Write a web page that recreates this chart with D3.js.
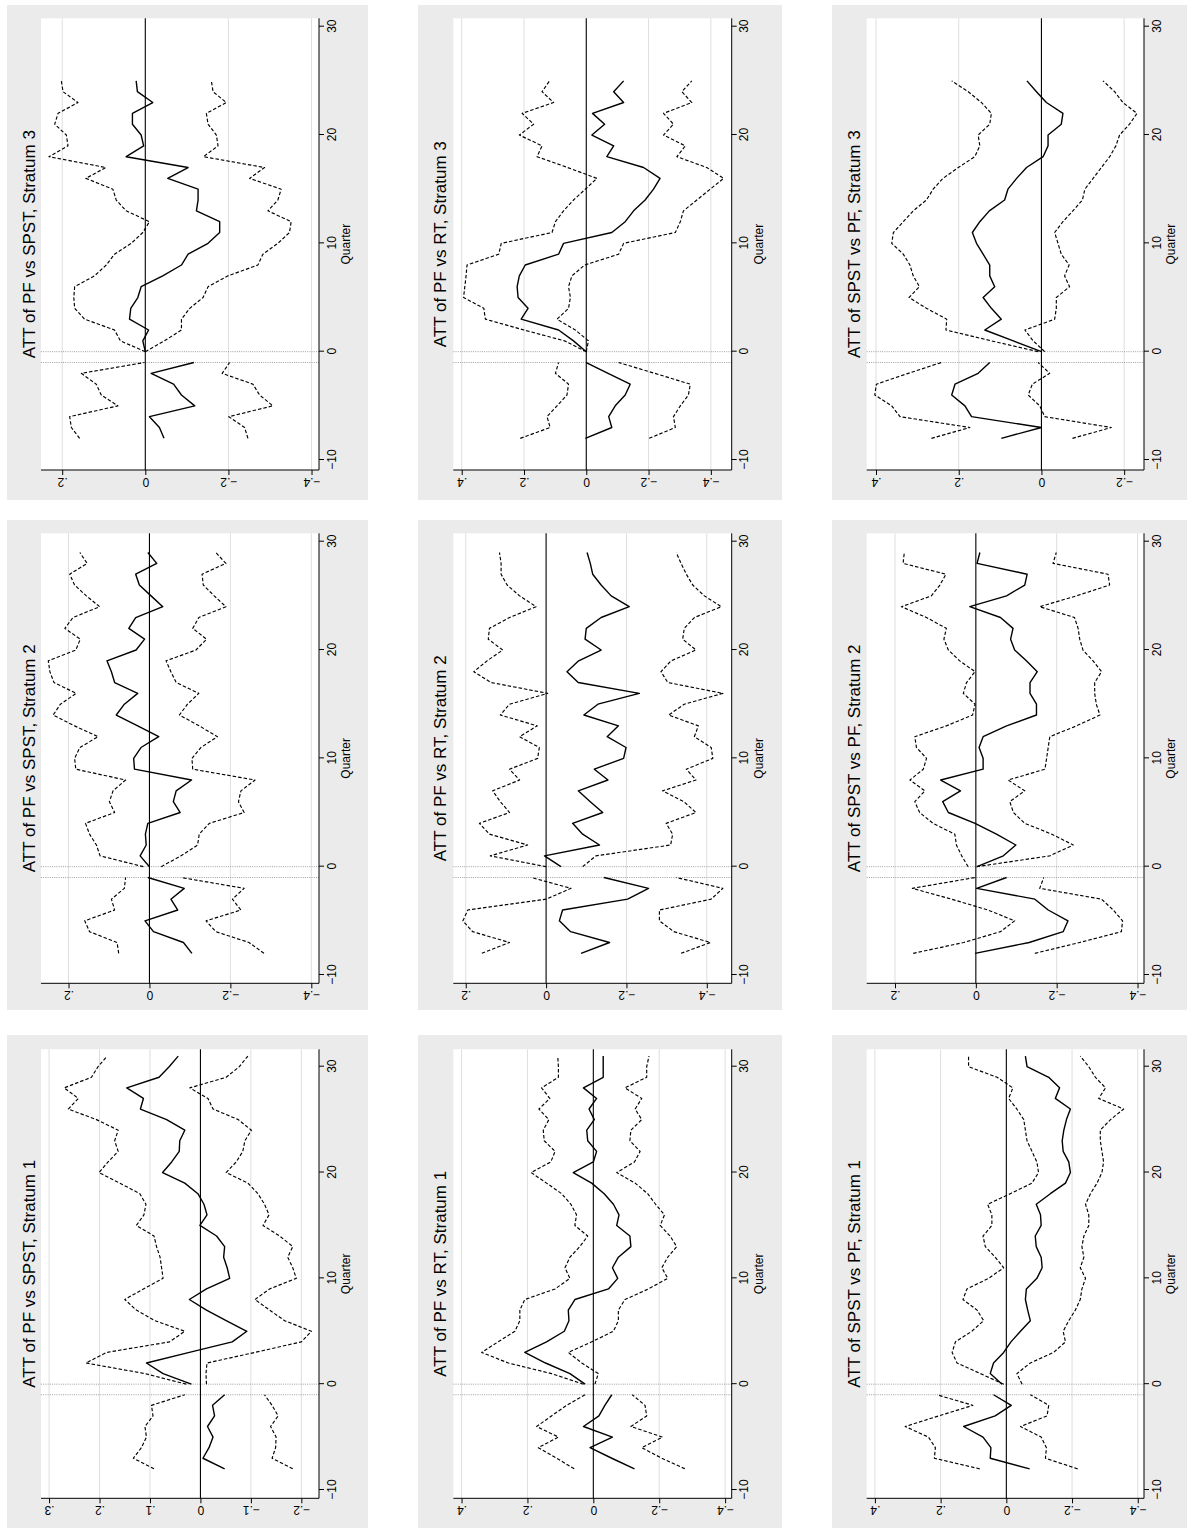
<!DOCTYPE html>
<html><head><meta charset="utf-8">
<script src="https://cdn.jsdelivr.net/npm/d3@7"></script>
<style>body{margin:0;background:#fff}svg{display:block}</style>
</head><body>
<svg id="c" width="1187" height="1530"></svg>
<script>
// ---------- categories ----------
const quartersS1 = [-8,-7,-6,-5,-4,-3,-2,-1,0,1,2,3,4,5,6,7,8,9,10,11,12,13,14,15,16,17,18,19,20,21,22,23,24,25,26,27,28,29,30,31];
const quartersS2 = [-8,-7,-6,-5,-4,-3,-2,-1,0,1,2,3,4,5,6,7,8,9,10,11,12,13,14,15,16,17,18,19,20,21,22,23,24,25,26,27,28,29];
const quartersS3 = [-8,-7,-6,-5,-4,-3,-2,-1,0,1,2,3,4,5,6,7,8,9,10,11,12,13,14,15,16,17,18,19,20,21,22,23,24,25];

const xTicks = [-10,0,10,20,30];
const xTickLabels = ["\u221210","0","10","20","30"];

// ---------- PF vs SPST ----------
const pfSpstS1Est = [-0.048,-0.005,-0.017,-0.025,-0.014,-0.028,-0.024,-0.048, 0.018,0.074,0.107,0.022,-0.063,-0.092,-0.051,-0.012,0.022,-0.012,-0.058,-0.053,-0.046,-0.048,-0.032,0.001,-0.013,-0.007,0.005,0.031,0.075,0.057,0.042,0.041,0.031,0.067,0.119,0.113,0.146,0.082,0.062,0.044];
const pfSpstS1Hi  = [0.092,0.133,0.117,0.107,0.110,0.094,0.097,0.031, 0.028,0.110,0.227,0.186,0.061,0.031,0.090,0.127,0.150,0.113,0.074,0.077,0.080,0.087,0.092,0.127,0.112,0.108,0.120,0.160,0.201,0.183,0.163,0.170,0.163,0.206,0.262,0.242,0.270,0.216,0.203,0.185];
const pfSpstS1Lo  = [-0.183,-0.142,-0.149,-0.150,-0.139,-0.154,-0.142,-0.127, -0.012,-0.011,-0.013,-0.108,-0.200,-0.220,-0.167,-0.137,-0.108,-0.137,-0.190,-0.183,-0.173,-0.183,-0.157,-0.124,-0.136,-0.127,-0.114,-0.094,-0.051,-0.071,-0.084,-0.088,-0.101,-0.075,-0.025,-0.015,0.021,-0.051,-0.077,-0.094];

const pfSpstS2Est = [-0.105,-0.084,-0.010,0.011,-0.070,-0.053,-0.086,0.004, 0.000,0.023,0.008,0.010,0.004,-0.076,-0.059,-0.066,-0.104,0.037,0.039,0.021,-0.023,0.029,0.082,0.062,0.029,0.086,0.094,0.105,0.033,0.012,0.051,0.034,-0.033,-0.004,0.025,0.034,-0.018,0.004];
const pfSpstS2Hi  = [0.076,0.080,0.148,0.160,0.086,0.094,0.062,0.059, 0.015,0.122,0.131,0.148,0.158,0.086,0.099,0.090,0.059,0.182,0.185,0.172,0.127,0.185,0.238,0.220,0.181,0.236,0.246,0.250,0.182,0.171,0.209,0.189,0.123,0.156,0.185,0.197,0.154,0.172];
const pfSpstS2Lo  = [-0.283,-0.246,-0.164,-0.140,-0.226,-0.205,-0.234,-0.078, -0.029,-0.078,-0.119,-0.123,-0.148,-0.234,-0.220,-0.226,-0.261,-0.107,-0.105,-0.127,-0.168,-0.123,-0.074,-0.094,-0.122,-0.066,-0.053,-0.041,-0.115,-0.141,-0.107,-0.122,-0.189,-0.160,-0.133,-0.130,-0.189,-0.164];

const pfSpstS3Est = [-0.045,-0.034,-0.010,-0.119,-0.087,-0.068,-0.014,-0.117, 0.000,0.006,-0.008,0.038,0.035,0.018,0.010,-0.042,-0.087,-0.103,-0.151,-0.179,-0.179,-0.123,-0.127,-0.127,-0.054,-0.103,0.046,0.004,0.010,0.031,0.031,-0.018,0.019,0.022];
const pfSpstS3Hi  = [0.158,0.178,0.182,0.066,0.106,0.118,0.154,0.002, 0.000,0.060,0.074,0.146,0.170,0.172,0.170,0.122,0.094,0.074,0.034,0.006,-0.010,0.046,0.070,0.078,0.143,0.095,0.232,0.186,0.190,0.218,0.210,0.162,0.198,0.202];
const pfSpstS3Lo  = [-0.247,-0.239,-0.201,-0.307,-0.275,-0.259,-0.185,-0.203, 0.000,-0.046,-0.087,-0.087,-0.107,-0.139,-0.151,-0.199,-0.271,-0.283,-0.319,-0.347,-0.351,-0.295,-0.319,-0.327,-0.251,-0.287,-0.140,-0.175,-0.171,-0.151,-0.147,-0.195,-0.163,-0.159];

// ---------- PF vs RT ----------
const pfRtS1Est = [-0.125,-0.056,0.010,-0.058,0.030,-0.017,-0.035,-0.056, 0.025,0.071,0.145,0.208,0.142,0.088,0.074,0.076,0.056,-0.046,-0.074,-0.058,-0.076,-0.114,-0.111,-0.071,-0.078,-0.061,-0.033,0.005,0.061,0.000,-0.010,0.017,0.020,-0.003,0.013,-0.010,0.030,-0.030,-0.030,-0.030];
const pfRtS1Hi  = [0.058,0.111,0.167,0.106,0.172,0.127,0.081,0.025, 0.030,0.127,0.258,0.339,0.289,0.238,0.223,0.223,0.208,0.116,0.071,0.086,0.071,0.041,0.017,0.056,0.051,0.068,0.096,0.142,0.189,0.129,0.116,0.149,0.152,0.135,0.165,0.132,0.157,0.106,0.106,0.108];
const pfRtS1Lo  = [-0.278,-0.208,-0.147,-0.210,-0.114,-0.162,-0.157,-0.118, -0.005,-0.015,0.035,0.076,0.005,-0.061,-0.076,-0.076,-0.096,-0.167,-0.226,-0.208,-0.226,-0.253,-0.233,-0.203,-0.216,-0.189,-0.165,-0.127,-0.071,-0.125,-0.142,-0.111,-0.114,-0.147,-0.127,-0.147,-0.096,-0.162,-0.162,-0.169];

const pfRtS2Est = [-0.087,-0.158,-0.061,-0.033,-0.041,-0.203,-0.255,-0.144, -0.037,0.004,-0.133,-0.091,-0.066,-0.141,-0.110,-0.080,-0.154,-0.120,-0.193,-0.199,-0.152,-0.180,-0.094,-0.129,-0.232,-0.080,-0.052,-0.081,-0.137,-0.097,-0.100,-0.137,-0.207,-0.162,-0.137,-0.116,-0.110,-0.102];
const pfRtS2Hi  = [0.160,0.091,0.183,0.207,0.195,0.000,-0.062,0.037, 0.000,0.139,0.046,0.141,0.166,0.091,0.114,0.133,0.066,0.091,0.021,0.017,0.066,0.022,0.114,0.091,-0.004,0.137,0.180,0.147,0.108,0.144,0.141,0.091,0.025,0.066,0.097,0.112,0.112,0.116];
const pfRtS2Lo  = [-0.336,-0.409,-0.318,-0.282,-0.282,-0.411,-0.440,-0.324, -0.091,-0.124,-0.310,-0.315,-0.299,-0.373,-0.343,-0.290,-0.373,-0.349,-0.415,-0.411,-0.369,-0.379,-0.305,-0.344,-0.440,-0.303,-0.286,-0.311,-0.373,-0.340,-0.344,-0.369,-0.436,-0.394,-0.365,-0.349,-0.336,-0.324];

const pfRtS3Est = [0.003,-0.082,-0.072,-0.093,-0.125,-0.141,-0.070,0.000, 0.000,0.041,0.089,0.209,0.187,0.219,0.222,0.215,0.196,0.089,0.073,-0.082,-0.125,-0.152,-0.189,-0.216,-0.237,-0.184,-0.066,-0.088,-0.018,-0.059,-0.020,-0.120,-0.088,-0.120];
const pfRtS3Hi  = [0.212,0.116,0.126,0.094,0.062,0.057,0.099,0.089, 0.000,0.070,0.200,0.324,0.329,0.394,0.390,0.386,0.383,0.281,0.273,0.110,0.099,0.073,0.041,0.003,-0.034,0.060,0.158,0.142,0.215,0.169,0.206,0.105,0.142,0.118];
const pfRtS3Lo  = [-0.202,-0.286,-0.280,-0.302,-0.328,-0.334,-0.220,-0.104, 0.000,-0.007,0.035,0.094,0.057,0.051,0.057,0.046,0.005,-0.104,-0.120,-0.286,-0.302,-0.312,-0.355,-0.398,-0.441,-0.387,-0.291,-0.318,-0.248,-0.280,-0.248,-0.339,-0.307,-0.339];

// ---------- SPST vs PF ----------
const spstPfS1Est = [-0.071,0.049,0.047,0.071,0.130,0.034,-0.015,0.039, 0.013,0.049,0.039,0.008,-0.014,-0.043,-0.073,-0.065,-0.058,-0.061,-0.093,-0.109,-0.106,-0.091,-0.088,-0.106,-0.104,-0.091,-0.134,-0.180,-0.195,-0.190,-0.173,-0.170,-0.175,-0.183,-0.195,-0.149,-0.162,-0.129,-0.063,-0.058];
const spstPfS1Hi  = [0.081,0.219,0.216,0.237,0.308,0.206,0.102,0.211, 0.008,0.079,0.150,0.165,0.155,0.105,0.069,0.089,0.132,0.120,0.054,0.008,0.034,0.064,0.071,0.044,0.044,0.057,-0.012,-0.078,-0.098,-0.093,-0.078,-0.063,-0.058,-0.053,-0.032,-0.007,-0.020,0.028,0.115,0.115];
const spstPfS1Lo  = [-0.217,-0.119,-0.122,-0.106,-0.043,-0.124,-0.129,-0.073, -0.048,-0.032,-0.073,-0.144,-0.180,-0.173,-0.190,-0.210,-0.225,-0.230,-0.241,-0.225,-0.236,-0.230,-0.236,-0.251,-0.251,-0.241,-0.256,-0.276,-0.291,-0.296,-0.291,-0.286,-0.286,-0.317,-0.357,-0.281,-0.302,-0.271,-0.251,-0.225];

const spstPfS2Est = [0.002,-0.132,-0.216,-0.228,-0.179,-0.146,-0.002,-0.076, -0.003,-0.068,-0.099,-0.051,0.002,0.068,0.082,0.038,0.087,-0.018,-0.018,-0.008,-0.018,-0.076,-0.150,-0.150,-0.134,-0.134,-0.152,-0.125,-0.096,-0.086,-0.092,-0.061,0.015,-0.076,-0.121,-0.127,-0.003,-0.010];
const spstPfS2Hi  = [0.155,0.030,-0.061,-0.096,-0.030,0.060,0.157,0.002, 0.019,0.035,0.048,0.052,0.106,0.139,0.151,0.126,0.163,0.130,0.122,0.147,0.151,0.073,0.008,0.002,0.031,0.023,0.002,0.040,0.068,0.079,0.073,0.122,0.184,0.110,0.089,0.074,0.180,0.177];
const spstPfS2Lo  = [-0.146,-0.257,-0.360,-0.363,-0.340,-0.311,-0.158,-0.168, -0.002,-0.183,-0.241,-0.188,-0.121,-0.093,-0.084,-0.121,-0.080,-0.171,-0.175,-0.179,-0.183,-0.249,-0.307,-0.298,-0.294,-0.294,-0.311,-0.290,-0.265,-0.257,-0.253,-0.244,-0.158,-0.249,-0.331,-0.327,-0.191,-0.199];

const spstPfS3Est = [0.097,0.000,0.169,0.185,0.217,0.209,0.153,0.125, 0.000,0.068,0.137,0.097,0.121,0.141,0.113,0.125,0.125,0.141,0.157,0.167,0.149,0.126,0.089,0.081,0.060,0.036,-0.004,-0.016,-0.016,-0.048,-0.052,-0.012,0.012,0.035];
const spstPfS3Hi  = [0.266,0.173,0.342,0.362,0.403,0.399,0.322,0.242, 0.008,0.121,0.231,0.229,0.278,0.320,0.295,0.310,0.318,0.334,0.362,0.358,0.334,0.310,0.278,0.262,0.238,0.201,0.161,0.149,0.153,0.125,0.121,0.145,0.177,0.217];
const spstPfS3Lo  = [-0.075,-0.169,-0.008,0.004,0.032,0.022,-0.020,0.008, -0.008,0.020,0.040,-0.032,-0.036,-0.036,-0.068,-0.056,-0.067,-0.048,-0.040,-0.032,-0.052,-0.076,-0.099,-0.105,-0.125,-0.145,-0.165,-0.180,-0.189,-0.213,-0.231,-0.197,-0.177,-0.149];

// ---------- y tick values / labels ----------
const yTicks3 = [0.3,0.2,0.1,0,-0.1,-0.2];
const yLabels3 = [".3",".2",".1","0","\u2212.1","\u2212.2"];
const yTicks24 = [0.4,0.2,0,-0.2,-0.4];
const yLabels24 = [".4",".2","0","\u2212.2","\u2212.4"];
const yTicks2n4 = [0.2,0,-0.2,-0.4];
const yLabels2n4 = [".2","0","\u2212.2","\u2212.4"];
const yTicks42 = [0.4,0.2,0,-0.2];
const yLabels42 = [".4",".2","0","\u2212.2"];

const titles = [
  ["ATT of PF vs SPST, Stratum 1","ATT of PF vs SPST, Stratum 2","ATT of PF vs SPST, Stratum 3"],
  ["ATT of PF vs RT, Stratum 1","ATT of PF vs RT, Stratum 2","ATT of PF vs RT, Stratum 3"],
  ["ATT of SPST vs PF, Stratum 1","ATT of SPST vs PF, Stratum 2","ATT of SPST vs PF, Stratum 3"]
];

// ---------- layout (landscape figure, 1530 x 1187, then rotated) ----------
const colGeom = [
  {gx0:2,    gx1:495,  px0:31.7,  px1:480.7,  q10:40,   q30:463.3},
  {gx0:520,  gx1:1010, px0:546.7, px1:996.7,  q10:555,  q30:988.3},
  {gx0:1030, gx1:1525, px0:1060,  px1:1511.7, q10:1070, q30:1503.3}
];
const rowGeom = [
  {gy0:7,   gy1:368,  py0:41,    py1:319},
  {gy0:418, gy1:782,  py0:453.3, py1:731.7},
  {gy0:832, gy1:1194, py0:866.7, py1:1144}
];

const panels = [
  {row:0,col:0,q:quartersS1,est:pfSpstS1Est,hi:pfSpstS1Hi,lo:pfSpstS1Lo,yt:yTicks3,yl:yLabels3,yDom:[0.316,-0.235]},
  {row:0,col:1,q:quartersS2,est:pfSpstS2Est,hi:pfSpstS2Hi,lo:pfSpstS2Lo,yt:yTicks2n4,yl:yLabels2n4,yDom:[0.268,-0.419]},
  {row:0,col:2,q:quartersS3,est:pfSpstS3Est,hi:pfSpstS3Hi,lo:pfSpstS3Lo,yt:yTicks2n4,yl:yLabels2n4,yDom:[0.251,-0.418]},
  {row:1,col:0,q:quartersS1,est:pfRtS1Est,hi:pfRtS1Hi,lo:pfRtS1Lo,yt:yTicks24,yl:yLabels24,yDom:[0.425,-0.420]},
  {row:1,col:1,q:quartersS2,est:pfRtS2Est,hi:pfRtS2Hi,lo:pfRtS2Lo,yt:yTicks2n4,yl:yLabels2n4,yDom:[0.231,-0.462]},
  {row:1,col:2,q:quartersS3,est:pfRtS3Est,hi:pfRtS3Hi,lo:pfRtS3Lo,yt:yTicks24,yl:yLabels24,yDom:[0.427,-0.467]},
  {row:2,col:0,q:quartersS1,est:spstPfS1Est,hi:spstPfS1Hi,lo:spstPfS1Lo,yt:yTicks24,yl:yLabels24,yDom:[0.425,-0.419]},
  {row:2,col:1,q:quartersS2,est:spstPfS2Est,hi:spstPfS2Hi,lo:spstPfS2Lo,yt:yTicks2n4,yl:yLabels2n4,yDom:[0.270,-0.416]},
  {row:2,col:2,q:quartersS3,est:spstPfS3Est,hi:spstPfS3Hi,lo:spstPfS3Lo,yt:yTicks42,yl:yLabels42,yDom:[0.4225,-0.248]}
];

const FONT = "'Liberation Sans', Arial, Helvetica, sans-serif";
const svg = d3.select("#c");
svg.append("rect").attr("width",1187).attr("height",1530).attr("fill","#fff");
const root = svg.append("g").attr("transform","translate(0,1530) rotate(-90)");

panels.forEach(p => {
  const cg = colGeom[p.col], rg = rowGeom[p.row];
  const g = root.append("g");
  g.append("rect").attr("x",cg.gx0).attr("y",rg.gy0).attr("width",cg.gx1-cg.gx0).attr("height",rg.gy1-rg.gy0).attr("fill","#ebebeb");
  g.append("rect").attr("x",cg.px0).attr("y",rg.py0).attr("width",cg.px1-cg.px0).attr("height",rg.py1-rg.py0).attr("fill","#ffffff");

  const x = d3.scaleLinear().domain([-10,30]).range([cg.q10,cg.q30]);
  const y = d3.scaleLinear().domain(p.yDom).range([rg.py0,rg.py1]);

  // grid lines
  g.selectAll("line.grid").data(p.yt.filter(t=>t!==0)).enter().append("line")
    .attr("x1",cg.px0).attr("x2",cg.px1).attr("y1",d=>y(d)).attr("y2",d=>y(d))
    .attr("stroke","#dedede").attr("stroke-width",1);

  // vertical dotted reference lines
  [-1,0].forEach(v=>{
    g.append("line").attr("x1",x(v)).attr("x2",x(v)).attr("y1",rg.py0).attr("y2",rg.py1)
      .attr("stroke","#a0a0a0").attr("stroke-width",1).attr("stroke-dasharray","1,1.2");
  });

  // zero line
  g.append("line").attr("x1",cg.px0).attr("x2",cg.px1).attr("y1",y(0)).attr("y2",y(0))
    .attr("stroke","#000").attr("stroke-width",1.1);

  const line = d3.line().x(d=>x(d.q)).y(d=>y(d.v));
  const series = [
    {vals:p.hi, dash:"3.5,2", w:1.15},
    {vals:p.lo, dash:"3.5,2", w:1.15},
    {vals:p.est, dash:null, w:1.4}
  ];
  series.forEach(s=>{
    const pts = p.q.map((q,i)=>({q:q, v:s.vals[i]}));
    [pts.filter(d=>d.q<0), pts.filter(d=>d.q>=0)].forEach(seg=>{
      const path = g.append("path").attr("d",line(seg)).attr("fill","none")
        .attr("stroke","#000").attr("stroke-width",s.w).attr("stroke-linejoin","round");
      if (s.dash) path.attr("stroke-dasharray",s.dash);
    });
  });

  // y axis
  const yAxis = d3.axisLeft(y).tickValues(p.yt).tickSize(5).tickSizeOuter(0)
    .tickFormat((d,i)=>p.yl[i]);
  const ya = g.append("g").attr("transform",`translate(${cg.px0},0)`).call(yAxis);
  ya.select(".domain").remove();
  ya.selectAll(".tick line").attr("stroke","#000");
  ya.selectAll(".tick text").attr("x",null).attr("dy",null).attr("text-anchor","middle")
    .attr("transform","translate(-8,0) rotate(-90)")
    .attr("font-family",FONT).attr("font-size",12).attr("fill","#000");
  g.append("line").attr("x1",cg.px0).attr("x2",cg.px0).attr("y1",rg.py0).attr("y2",rg.py1)
    .attr("stroke","#000").attr("stroke-width",1);

  // x axis
  const xAxis = d3.axisBottom(x).tickValues(xTicks).tickSize(5).tickSizeOuter(0).tickPadding(3)
    .tickFormat((d,i)=>xTickLabels[i]);
  const xa = g.append("g").attr("transform",`translate(0,${rg.py1})`).call(xAxis);
  xa.select(".domain").remove();
  xa.selectAll(".tick line").attr("stroke","#000");
  xa.selectAll(".tick text").attr("font-family",FONT).attr("font-size",12).attr("fill","#000");
  g.append("line").attr("x1",cg.px0).attr("x2",cg.px1).attr("y1",rg.py1).attr("y2",rg.py1)
    .attr("stroke","#000").attr("stroke-width",1);

  // axis title
  g.append("text").attr("x",(cg.px0+cg.px1)/2).attr("y",rg.py1+31).attr("text-anchor","middle")
    .attr("font-family",FONT).attr("font-size",12).attr("fill","#000").text("Quarter");

  // panel title
  g.append("text").attr("x",(cg.px0+cg.px1)/2).attr("y",rg.gy0+28).attr("text-anchor","middle")
    .attr("font-family",FONT).attr("font-size",17).attr("fill","#000").text(titles[p.row][p.col]);
});
</script>
</body></html>
